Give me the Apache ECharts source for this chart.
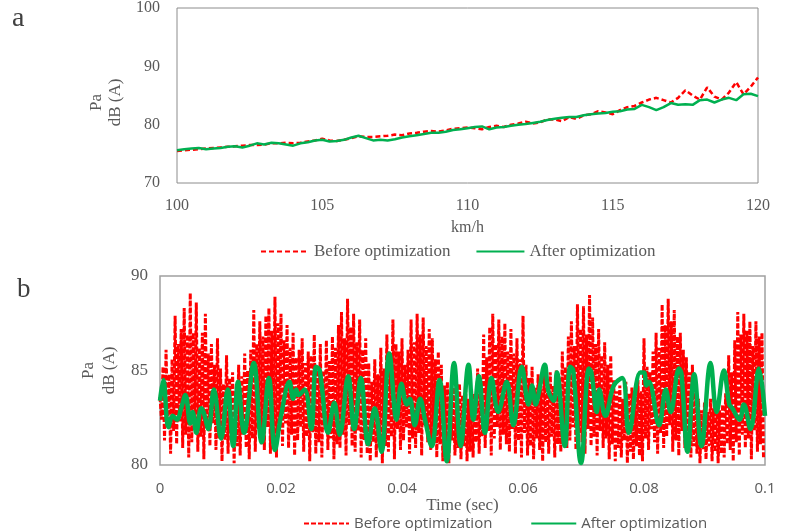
<!DOCTYPE html>
<html>
<head>
<meta charset="utf-8">
<script src="https://cdn.jsdelivr.net/npm/echarts@6/dist/echarts.min.js"></script>
<style>
  html, body { margin: 0; padding: 0; background: #fff; }
  #main { width: 798px; height: 531px; }
</style>
</head>
<body>
<div id="main"></div>
<script>
// panel a: noise vs speed, one value every 0.25 km/h from 100 to 120
var speedStart = 100, speedStep = 0.25;
var beforeA = [75.5, 75.6, 75.7, 75.8, 75.9, 76.0, 76.1, 76.2, 76.3, 76.4, 76.5, 76.5, 76.6, 76.8, 76.8, 76.9,
  76.8, 76.9, 77.1, 77.3, 77.6, 77.3, 77.2, 77.4, 77.7, 78.0, 77.9, 77.9, 78.0, 78.1, 78.3, 78.2,
  78.5, 78.6, 78.8, 78.9, 78.8, 79.0, 79.3, 79.4, 79.5, 79.4, 79.2, 79.6, 79.8, 79.6, 80.0, 80.2,
  80.5, 80.2, 80.4, 80.9, 80.9, 80.6, 81.3, 81.0, 81.6, 81.8, 82.3, 82.1, 81.8, 82.5, 83.0, 83.2,
  83.8, 84.3, 84.6, 84.2, 83.8, 84.6, 85.9, 85.0, 84.3, 86.4, 84.8, 84.3, 85.5, 87.3, 85.2, 86.5, 88.1];
var afterA = [75.6, 75.8, 75.9, 76.0, 75.8, 75.9, 76.0, 76.2, 76.3, 76.1, 76.4, 76.8, 76.6, 76.9, 76.8, 76.6,
  76.4, 76.8, 77.0, 77.3, 77.4, 77.1, 77.2, 77.4, 77.8, 78.1, 77.7, 77.3, 77.4, 77.3, 77.5, 77.8,
  78.0, 78.2, 78.4, 78.6, 78.6, 78.8, 79.1, 79.2, 79.4, 79.6, 79.7, 79.2, 79.5, 79.6, 79.8, 80.0,
  80.1, 80.3, 80.5, 80.8, 81.0, 81.2, 81.3, 81.3, 81.6, 81.8, 81.9, 82.0, 82.2, 82.3, 82.6, 82.7,
  83.4, 83.0, 82.5, 83.0, 83.7, 83.4, 83.5, 83.4, 84.2, 84.3, 83.8, 84.3, 84.6, 84.2, 85.2, 85.3, 84.9];

// panel b: before optimization, one peak and one trough every 0.5 ms
var cycle = 0.0005;
var beforeHigh = [
  83.6, 85.2, 86.1, 84.8, 85.6, 87.9, 86.4, 87.2, 88.3, 86.9,
  89.1, 87.0, 88.6, 86.2, 87.0, 88.0, 85.9, 86.4, 85.3, 86.7,
  85.1, 84.3, 85.8, 84.6, 84.9, 83.9, 85.3, 84.7, 85.9, 85.0,
  86.1, 88.2, 86.4, 87.6, 86.8, 87.9, 88.3, 87.1, 88.9, 87.5,
  88.0, 86.6, 87.4, 86.2, 87.0, 85.7, 86.1, 86.7, 85.4, 86.0,
  85.8, 86.9, 85.2, 86.4, 85.0, 86.6, 85.5, 86.8, 86.2, 87.4,
  88.1, 86.7, 88.8, 87.3, 88.0, 86.5, 87.7, 86.1, 86.7, 85.4,
  84.4, 85.6, 84.8, 86.2, 85.1, 86.9, 85.8, 87.7, 86.4, 86.0,
  86.7, 85.3, 86.1, 87.7, 86.5, 88.0, 86.9, 87.8, 86.3, 87.2,
  86.7, 85.6, 86.0, 85.3, 84.2, 84.4, 83.6, 84.1, 83.5, 84.3,
  83.7, 84.4, 83.5, 84.0, 83.8, 85.1, 84.6, 86.9, 85.7, 87.3,
  88.0, 86.4, 87.7, 86.8, 87.5, 86.0, 87.2, 85.9, 86.7, 85.6,
  87.9, 85.3, 84.6, 85.2, 84.1, 84.8, 84.0, 85.3, 84.4, 84.9,
  84.2, 85.0, 84.6, 86.0, 85.2, 86.8, 87.6, 86.3, 88.5, 87.2,
  88.4, 86.9, 89.0, 87.8, 86.4, 87.2, 85.8, 86.5, 85.3, 85.8,
  84.5, 83.9, 84.2, 83.5, 84.4, 83.8, 84.1, 83.6, 84.5, 83.9,
  86.7, 85.2, 84.9, 86.0, 87.0, 86.2, 88.5, 87.4, 88.8, 87.6,
  88.2, 86.8, 87.0, 86.1, 85.7, 84.9, 85.3, 84.2, 83.5, 82.9,
  83.3, 82.8, 83.5, 83.0, 83.4, 82.9, 83.2, 83.8, 85.8, 84.9,
  86.6, 88.1, 86.9, 88.0, 87.1, 87.6, 86.3, 87.6, 86.8, 87.0];
var beforeLow = [
  82.4, 81.3, 82.0, 80.6, 81.8, 81.1, 82.3, 80.9, 81.6, 80.4,
  81.2, 82.1, 80.7, 81.5, 80.3, 81.9, 81.0, 82.2, 80.8, 81.4,
  80.2, 81.3, 80.6, 81.7, 80.1, 81.0, 80.5, 81.6, 80.9, 80.3,
  81.4, 80.7, 81.9, 81.1, 80.8, 82.0, 80.6, 81.5, 80.4, 81.8,
  81.0, 82.2, 80.9, 81.6, 80.5, 81.3, 82.0, 80.7, 81.5, 80.2,
  81.7, 80.6, 81.2, 80.4, 81.9, 80.8, 81.4, 80.3, 81.1, 80.9,
  81.6, 80.5, 82.1, 81.0, 80.7, 81.8, 80.4, 81.3, 80.6, 80.2,
  81.2, 80.4, 81.6, 80.1, 81.0, 80.7, 81.5, 80.3, 81.9, 80.8,
  81.3, 82.0, 80.6, 81.4, 80.9, 81.7, 80.5, 82.1, 81.2, 80.8,
  81.5, 80.4, 81.1, 80.2, 80.8, 80.1, 81.3, 80.5, 80.9, 80.3,
  81.0, 80.2, 80.7, 80.4, 81.2, 80.6, 81.5, 80.9, 81.8, 80.5,
  81.4, 82.0, 80.8, 81.6, 81.1, 80.7, 81.9, 80.6, 81.3, 80.4,
  81.7, 80.5, 81.0, 80.3, 81.4, 80.8, 80.2, 81.2, 80.6, 81.5,
  80.4, 81.1, 80.7, 81.6, 80.9, 81.3, 82.0, 80.8, 81.7, 81.2,
  80.6, 81.9, 81.0, 81.5, 80.5, 81.8, 80.9, 81.4, 80.3, 81.1,
  80.2, 80.9, 80.4, 81.3, 80.1, 80.7, 80.3, 81.0, 80.5, 80.2,
  81.4, 80.8, 81.9, 81.2, 80.6, 81.7, 80.9, 81.5, 82.1, 80.7,
  81.3, 80.5, 81.8, 80.9, 81.2, 80.4, 81.0, 80.6, 80.1, 80.8,
  80.3, 81.0, 80.2, 80.7, 80.1, 80.6, 80.4, 81.1, 80.8, 80.2,
  81.2, 80.5, 81.6, 80.9, 81.4, 80.3, 81.8, 80.7, 81.1, 80.4];

// panel b: after optimization, turning points (sec, dB)
var afterTime = [0.0000, 0.00055, 0.0014, 0.0021, 0.0028, 0.0035, 0.0042, 0.0050, 0.0054, 0.0060,
  0.0068, 0.0072, 0.0080, 0.0089, 0.0101, 0.0112, 0.0121, 0.0129, 0.0139, 0.0155,
  0.0168, 0.0180, 0.0190, 0.0200, 0.0214, 0.0220, 0.0225, 0.0229, 0.0239, 0.0250,
  0.0258, 0.0264, 0.0278, 0.0288, 0.0297, 0.0311, 0.0321, 0.0332, 0.0344, 0.0355,
  0.0366, 0.0379, 0.0391, 0.0399, 0.0408, 0.0413, 0.0421, 0.0430, 0.0438, 0.0449,
  0.0462, 0.0474, 0.0486, 0.0497, 0.0510, 0.0518, 0.0527, 0.0537, 0.0548, 0.0559,
  0.0573, 0.0584, 0.0598, 0.0609, 0.0615, 0.0621, 0.0626, 0.0636, 0.0642, 0.0651,
  0.0656, 0.0669, 0.0678, 0.0683, 0.0696, 0.0709, 0.0713, 0.0722, 0.0726, 0.0736,
  0.0750, 0.0764, 0.0775, 0.0794, 0.0800, 0.0804, 0.0808, 0.0825, 0.0836, 0.0844,
  0.0858, 0.0862, 0.0872, 0.0883, 0.0895, 0.0910, 0.0920, 0.0932, 0.0941, 0.0946,
  0.0958, 0.0965, 0.0976, 0.0990, 0.1000];
var afterValue = [83.4, 84.5, 82.0, 82.6, 82.4, 83.0, 83.7, 82.2, 82.8, 81.7,
  83.0, 82.8, 81.9, 84.0, 81.4, 84.0, 81.0, 84.4, 81.7, 85.4,
  81.2, 84.6, 80.8, 82.6, 84.4, 83.5, 84.0, 83.7, 84.0, 81.9,
  85.2, 85.0, 81.7, 83.3, 81.6, 84.7, 81.9, 84.6, 81.1, 83.0,
  80.7, 85.9, 82.4, 84.3, 83.2, 83.5, 82.1, 83.5, 82.4, 81.0,
  84.5, 80.2, 85.4, 81.0, 85.3, 82.4, 84.7, 81.7, 84.6, 82.8,
  84.4, 82.1, 85.2, 83.2, 84.2, 83.2, 83.8, 85.3, 83.9, 83.4,
  84.9, 81.0, 85.2, 85.0, 80.1, 85.1, 84.9, 82.8, 84.0, 82.6,
  84.2, 84.6, 81.7, 84.9, 84.9, 84.2, 84.4, 82.1, 84.0, 82.8,
  85.1, 84.8, 80.7, 84.8, 81.0, 85.4, 82.8, 85.0, 83.2, 83.0,
  82.4, 83.2, 81.9, 85.1, 82.6];

var serif = 'Liberation Serif';
var sans = 'Open Sans';
var grey = '#595959';
var red = '#FF0000';
var green = '#00B050';

var dataBeforeA = beforeA.map(function (v, i) { return [speedStart + i * speedStep, v]; });
var dataAfterA = afterA.map(function (v, i) { return [speedStart + i * speedStep, v]; });
var dataBeforeB = [];
beforeHigh.forEach(function (h, i) {
  dataBeforeB.push([i * cycle, h]);
  dataBeforeB.push([i * cycle + cycle / 2, beforeLow[i]]);
});
var dataAfterB = afterTime.map(function (t, i) { return [t, afterValue[i]]; });

var chart = echarts.init(document.getElementById('main'));
chart.setOption({
  animation: false,
  backgroundColor: '#fff',
  title: [
    { text: 'a', left: 7, top: 0, textStyle: { fontFamily: serif, fontSize: 28, fontWeight: 'normal', color: '#404040' } },
    { text: 'b', left: 12, top: 271, textStyle: { fontFamily: serif, fontSize: 27, fontWeight: 'normal', color: '#404040' } }
  ],
  legend: [
    {
      left: 255, top: 238, itemWidth: 48, itemHeight: 14, itemGap: 25,
      itemStyle: { opacity: 0 },
      data: ['Before optimization', 'After optimization'],
      textStyle: { fontFamily: serif, fontSize: 17, color: grey }
    },
    {
      left: 298, top: 511, itemWidth: 45, itemHeight: 14, itemGap: 34,
      itemStyle: { opacity: 0 },
      data: ['Before optimization ', 'After optimization '],
      textStyle: { fontFamily: sans, fontSize: 15, color: grey }
    }
  ],
  grid: [
    { left: 177, top: 6, width: 581, height: 177, show: true, borderColor: '#8c8c8c', borderWidth: 1 },
    { left: 160, top: 276, width: 605, height: 189, show: true, borderColor: '#a0a0a0', borderWidth: 1.5 }
  ],
  xAxis: [
    {
      gridIndex: 0, type: 'value', min: 100, max: 120, interval: 5,
      name: 'km/h', nameLocation: 'middle', nameGap: 37,
      nameTextStyle: { fontFamily: serif, fontSize: 16, color: grey },
      axisLine: { show: false }, axisTick: { show: false }, splitLine: { show: false },
      axisLabel: { fontFamily: serif, fontSize: 16, color: grey, margin: 15 }
    },
    {
      gridIndex: 1, type: 'value', min: 0, max: 0.1, interval: 0.02,
      name: 'Time (sec)', nameLocation: 'middle', nameGap: 31,
      nameTextStyle: { fontFamily: serif, fontSize: 17, color: grey },
      axisLine: { show: false }, axisTick: { show: false }, splitLine: { show: false },
      axisLabel: { fontFamily: sans, fontSize: 15, color: grey, margin: 16 }
    }
  ],
  yAxis: [
    {
      gridIndex: 0, type: 'value', min: 70, max: 100, interval: 10,
      name: 'Pa\ndB (A)', nameLocation: 'middle', nameRotate: 90, nameGap: 52,
      nameTextStyle: { fontFamily: serif, fontSize: 17, color: grey, lineHeight: 19, padding: [0, 14, 0, 0] },
      axisLine: { show: false }, axisTick: { show: false }, splitLine: { show: false },
      axisLabel: { fontFamily: serif, fontSize: 16, color: grey, margin: 17 }
    },
    {
      gridIndex: 1, type: 'value', min: 80, max: 90, interval: 5,
      name: 'Pa\ndB (A)', nameLocation: 'middle', nameRotate: 90, nameGap: 37,
      nameTextStyle: { fontFamily: serif, fontSize: 17, color: grey, lineHeight: 21 },
      axisLine: { show: false }, axisTick: { show: false }, splitLine: { show: false },
      axisLabel: { fontFamily: serif, fontSize: 17, color: grey, margin: 12 }
    }
  ],
  series: [
    {
      name: 'Before optimization', type: 'line', xAxisIndex: 0, yAxisIndex: 0,
      data: dataBeforeA, symbol: 'none', color: red,
      lineStyle: { color: red, width: 2.5, type: [5, 3] }
    },
    {
      name: 'After optimization', type: 'line', xAxisIndex: 0, yAxisIndex: 0,
      data: dataAfterA, symbol: 'none', color: green,
      lineStyle: { color: green, width: 2.5 }
    },
    {
      name: 'Before optimization ', type: 'line', xAxisIndex: 1, yAxisIndex: 1,
      data: dataBeforeB, symbol: 'none', color: red,
      lineStyle: { color: red, width: 3, type: [5, 2] }
    },
    {
      name: 'After optimization ', type: 'line', xAxisIndex: 1, yAxisIndex: 1,
      data: dataAfterB, symbol: 'none', color: green, smooth: 0.4,
      lineStyle: { color: green, width: 4.5 }
    }
  ]
});
</script>
</body>
</html>
